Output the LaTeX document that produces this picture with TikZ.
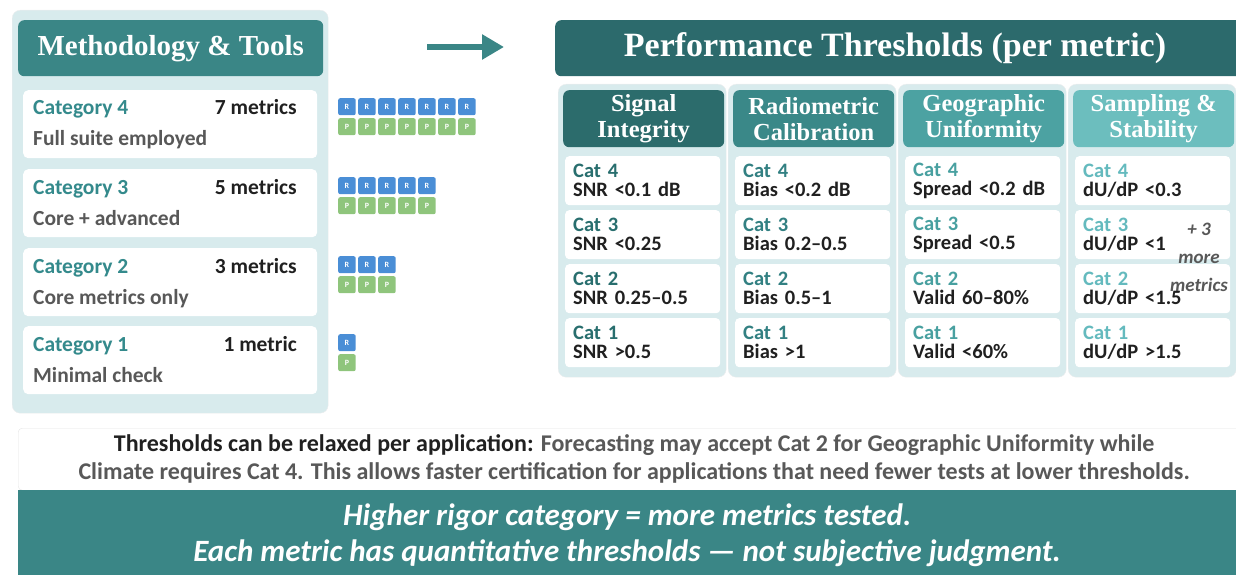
\documentclass[tikz,border=0pt]{standalone}
\usepackage{fontspec}
\setmainfont{Carlito}
\newfontfamily\headserif{Liberation Serif}
\usepackage{xcolor}
\usetikzlibrary{arrows.meta, positioning}

\definecolor{tealA}{RGB}{58,134,134}
\definecolor{tealDark}{RGB}{44,106,108}
\definecolor{panelbg}{RGB}{216,235,237}
\definecolor{catteal}{RGB}{52,138,140}
\definecolor{rblue}{RGB}{74,142,214}
\definecolor{pgreen}{RGB}{143,197,124}
\definecolor{darktext}{RGB}{32,32,32}
\definecolor{graytext}{RGB}{88,88,88}
\definecolor{colhdr1}{RGB}{44,108,108}
\definecolor{colhdr2}{RGB}{58,136,136}
\definecolor{colhdr3}{RGB}{76,162,162}
\definecolor{colhdr4}{RGB}{108,190,190}
\definecolor{catc1}{RGB}{40,110,110}
\definecolor{catc2}{RGB}{50,128,130}
\definecolor{catc3}{RGB}{72,160,160}
\definecolor{catc4}{RGB}{100,186,190}

\begin{document}
\begin{tikzpicture}[x=1pt, y=-1pt,
            panel/.style   ={rectangle, rounded corners=8pt, fill=panelbg, draw=black!7,
                              anchor=north west, inner sep=0pt},
            hdrbox/.style  ={rectangle, rounded corners=6pt, anchor=north west, inner sep=0pt,
                              text=white, align=center},
            card/.style    ={rectangle, rounded corners=5pt, fill=white, anchor=north west,
                              minimum width=294pt, minimum height=68pt, inner sep=0pt},
            catname/.style ={anchor=base west, inner sep=0pt, text=catteal,
                              font=\fontsize{21.5}{24}\selectfont\bfseries},
            catdesc/.style ={anchor=base west, inner sep=0pt, text=graytext,
                              font=\fontsize{21.5}{24}\selectfont\bfseries},
            catcount/.style={anchor=base east, inner sep=0pt, text=darktext,
                              font=\fontsize{21.5}{24}\selectfont\bfseries},
            badge/.style   ={rectangle, rounded corners=2pt, anchor=north west, inner sep=0pt,
                              minimum width=17.5pt, minimum height=17pt, text=white,
                              font=\fontsize{8}{9}\selectfont\bfseries},
            cell/.style    ={rectangle, rounded corners=4pt, fill=white, anchor=north west,
                              minimum height=49pt, text width=139pt, inner xsep=8pt,
                              align=left, text=darktext,
                              font=\fontsize{20.5}{19}\selectfont\bfseries},
            flowarrow/.style={-{Triangle[length=22pt, width=24pt]}, line width=6pt, tealA}
        ]
            \useasboundingbox (0,0) rectangle (1236,575);
            \clip (0,0) rectangle (1236,575);

            % --- Panel izquierdo: categorias ---
            \node[panel, minimum width=316pt, minimum height=403pt] (leftpanel) at (12,10) {};
            \node[hdrbox, fill=tealA, minimum width=305pt, minimum height=56pt,
                  font=\headserif\fontsize{29}{32}\selectfont\bfseries] (methhdr) at (18,20)
                  {Methodology \& Tools};

            \foreach \c/\y/\n/\cnt/\d in {4/90/7/7 metrics/Full suite employed,
                                          3/169/5/5 metrics/Core + advanced,
                                          2/248/3/3 metrics/Core metrics only,
                                          1/326/1/1 metric/Minimal check}{
                \node[card] (card\c) at (23,\y) {};
                \node[catname]  (name\c)  at (33,\y+25)  {Category \c};
                \node[catcount] (count\c) at (297,\y+25) {\cnt};
                \node[catdesc]  (desc\c)  at (33,\y+56)  {\d};
                % fichas R / P
                \foreach \i in {1,...,\n}{
                    \node[badge, fill=rblue]  (r\c-\i) at (338+20*\i-20,\y+8)  {R};
                    \node[badge, fill=pgreen] (p\c-\i) at (338+20*\i-20,\y+28) {P};
                }
            }

            % --- Flecha entre paneles ---
            \coordinate (arrstart) at (427,47);
            \coordinate (arrend)   at (504,47);
            \draw[flowarrow] (arrstart) -- (arrend);

            % --- Panel derecho: umbrales ---
            \node[hdrbox, fill=tealDark, minimum width=700pt, minimum height=56pt] (perfhdr) at (555,20) {};
            \node[text=white, font=\headserif\fontsize{34}{36}\selectfont\bfseries] (perftitle)
                  at (895,48) {Performance Thresholds (per metric)};

            \foreach \i/\hd/\va/\vb/\vc/\vd in {
                    1/{Signal\\Integrity}/{SNR <0.1 dB}/{SNR <0.25}/{SNR 0.25–0.5}/{SNR >0.5},
                    2/{Radiometric\\Calibration}/{Bias <0.2 dB}/{Bias 0.2–0.5}/{Bias 0.5–1}/{Bias >1},
                    3/{Geographic\\Uniformity}/{Spread <0.2 dB}/{Spread <0.5}/{Valid 60–80\%}/{Valid <60\%},
                    4/{Sampling \&\\Stability}/{dU/dP <0.3}/{dU/dP <1}/{dU/dP <1.5}/{dU/dP >1.5}}{
                \node[panel, minimum width=168pt, minimum height=293pt] (col\i) at (558+170*\i-170,84) {};
                \node[hdrbox, fill=colhdr\i, minimum width=161pt, minimum height=57pt,
                      font=\headserif\fontsize{24.5}{26}\selectfont\bfseries] (colhdr\i)
                      at (563+170*\i-170,90) {\hd};
                \foreach \r/\v in {4/\va,3/\vb,2/\vc,1/\vd}{
                    \node[cell] (cell\i-\r) at (565+170*\i-170,156+54*4-54*\r)
                        {\textcolor{catc\i}{Cat \r}\\\v};
                }
            }

            % nota sobre la columna de muestreo
            \node[align=center, text=graytext, font=\fontsize{19}{28}\selectfont\bfseries\itshape]
                  (moremetrics) at (1199,257) {+ 3\\more\\metrics};

            % --- Nota y resumen inferior ---
            \node[rectangle, rounded corners=4pt, fill=white, draw=black!10, anchor=north west, inner sep=0pt,
                  minimum width=1232pt, minimum height=62pt, align=center,
                  font=\fontsize{24}{28}\selectfont\bfseries, text=graytext] (note) at (18,428)
                  {\textcolor{darktext}{Thresholds can be relaxed per application:} Forecasting may accept Cat 2 for Geographic Uniformity while\\
                   Climate requires Cat 4. This allows faster certification for applications that need fewer tests at lower thresholds.};
            \node[rectangle, fill=tealA, anchor=north west, inner sep=0pt,
                  minimum width=1218pt, minimum height=90pt, align=center, text=white,
                  font=\fontsize{31}{36}\selectfont\bfseries\itshape] (summary) at (18,490)
                  {Higher rigor category = more metrics tested.\\
                   Each metric has quantitative thresholds — not subjective judgment.};
        \end{tikzpicture}
\end{document}
